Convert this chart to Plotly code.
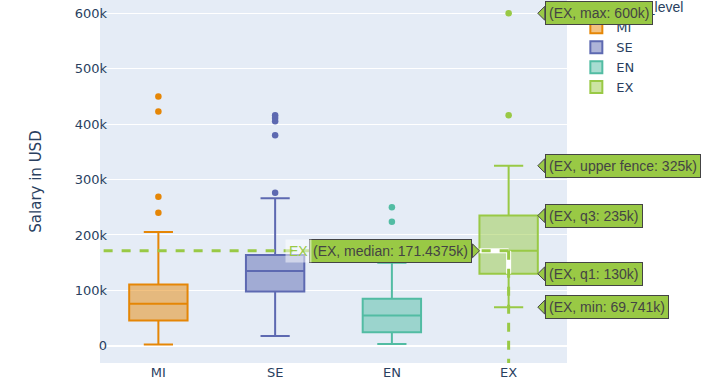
import plotly.graph_objects as go

# ---------------- data ----------------
levels = ["MI", "SE", "EN", "EX"]
colors = ["rgb(229,134,6)", "rgb(93,105,177)", "rgb(82,188,163)", "rgb(153,201,69)"]
fills = ["rgba(229,134,6,0.5)", "rgba(93,105,177,0.5)", "rgba(82,188,163,0.5)", "rgba(153,201,69,0.5)"]

lower_fence = [2500, 17500, 3500, 69741]
q1 = [45600, 98000, 24700, 130000]
median = [75700, 135000, 54600, 171437.5]
q3 = [110500, 164000, 84800, 235000]
upper_fence = [205600, 266400, 150000, 325000]

mi_outliers = [450000, 423000, 269000, 240000]
se_outliers = [416000, 411000, 405000, 380000, 276000]
en_outliers = [250000, 224000]
ex_outliers = [600000, 416000]
outliers = [mi_outliers, se_outliers, en_outliers, ex_outliers]

# hover labels shown for the EX box
hover_level = "EX"
hover_stats = ["max", "upper fence", "q3", "q1", "min"]
hover_values = [600000, 325000, 235000, 130000, 69741]
hover_texts = ["600k", "325k", "235k", "130k", "69.741k"]
median_text = "171.4375k"

# ---------------- figure ----------------
BOX_W = 0.5
Y_RANGE = [-31000, 624000]
X_RANGE = [-0.5, 3.5]
HOVER_FONT = dict(family="Liberation Sans, Arial, sans-serif", size=14, color="#444")

fig = go.Figure()
for i, lvl in enumerate(levels):
    fig.add_trace(go.Box(
        x=[lvl], q1=[q1[i]], median=[median[i]], q3=[q3[i]],
        lowerfence=[lower_fence[i]], upperfence=[upper_fence[i]],
        name=lvl, legendgroup=lvl, width=BOX_W,
        line=dict(color=colors[i], width=2), fillcolor=fills[i],
        boxpoints=False, hoverinfo="skip",
    ))
for i, lvl in enumerate(levels):
    fig.add_trace(go.Scatter(
        x=[lvl] * len(outliers[i]), y=outliers[i], mode="markers",
        marker=dict(color=colors[i], size=6.5), legendgroup=lvl,
        showlegend=False, hoverinfo="skip",
    ))

ex_i = levels.index(hover_level)
ex_color = colors[ex_i]
ex_med = median[ex_i]
right_edge = ex_i + BOX_W / 2
left_edge = ex_i - BOX_W / 2

shapes = []
# spike lines (white underlay inside the box + dashed green)
shapes.append(dict(type="line", xref="x", yref="y", x0=left_edge, x1=ex_i, y0=ex_med, y1=ex_med,
                   line=dict(color="white", width=5)))
shapes.append(dict(type="line", xref="x", yref="y", x0=ex_i, x1=ex_i, y0=q1[ex_i], y1=ex_med,
                   line=dict(color="white", width=5)))
shapes.append(dict(type="line", xref="x", yref="y", x0=ex_i, x1=X_RANGE[0], y0=ex_med, y1=ex_med,
                   line=dict(color=ex_color, width=3, dash="9px,9px")))
shapes.append(dict(type="line", xref="x", yref="y", x0=ex_i, x1=ex_i, y0=ex_med, y1=Y_RANGE[0],
                   line=dict(color=ex_color, width=3, dash="9px,9px")))

annotations = []
for stat, val, txt in zip(hover_stats, hover_values, hover_texts):
    shapes.append(dict(type="path", xref="x", yref="y", xsizemode="pixel", ysizemode="pixel",
                       xanchor=right_edge, yanchor=val, path="M0,0 L7,7 L7,-7 Z",
                       fillcolor=ex_color, line=dict(color="#444", width=1)))
    annotations.append(dict(x=right_edge, y=val, xref="x", yref="y", xanchor="left", yanchor="middle",
                            xshift=7, showarrow=False, text=f"({hover_level}, {stat}: {txt})",
                            font=HOVER_FONT, bgcolor=ex_color, bordercolor="#444",
                            borderwidth=1, borderpad=3))
# median label on the left side
shapes.append(dict(type="path", xref="x", yref="y", xsizemode="pixel", ysizemode="pixel",
                   xanchor=left_edge, yanchor=ex_med, path="M0,0 L-7,7 L-7,-7 Z",
                   fillcolor=ex_color, line=dict(color="#444", width=1)))
annotations.append(dict(x=left_edge, y=ex_med, xref="x", yref="y", xanchor="right", yanchor="middle",
                        xshift=-7, showarrow=False, text=f"({hover_level}, median: {median_text})",
                        font=HOVER_FONT, bgcolor=ex_color, bordercolor="#444",
                        borderwidth=1, borderpad=3))
annotations.append(dict(x=left_edge, y=ex_med, xref="x", yref="y", xanchor="right", yanchor="middle",
                        xshift=-167, showarrow=False, text=hover_level,
                        font=dict(family="Liberation Sans, Arial, sans-serif", size=14, color=ex_color),
                        bgcolor="rgba(255,255,255,0.5)", borderpad=3))

fig.update_layout(
    width=720, height=380,
    template="plotly",
    boxmode="overlay",
    margin=dict(l=100, r=153, t=0, b=17, autoexpand=False),
    font=dict(family="DejaVu Sans, Verdana, sans-serif", size=13, color="#2a3f5f"),
    legend=dict(title=dict(text="experience_level",
                           font=dict(family="Liberation Sans, Arial, sans-serif", size=14)),
                tracegroupgap=0, x=1.02, xanchor="left", y=1.016, yanchor="top"),
    xaxis=dict(range=X_RANGE, categoryorder="array", categoryarray=levels, title=None,
               automargin=False),
    yaxis=dict(range=Y_RANGE, title=dict(text="Salary in USD", font=dict(size=15), standoff=29),
               automargin=False, ticklabelstandoff=-8,
               tickvals=[0, 100000, 200000, 300000, 400000, 500000, 600000],
               ticktext=["0", "100k", "200k", "300k", "400k", "500k", "600k"]),
    shapes=shapes,
    annotations=annotations,
)

fig.write_html("out.html", config={"displayModeBar": False},
               post_script="document.body.style.margin='0';")
